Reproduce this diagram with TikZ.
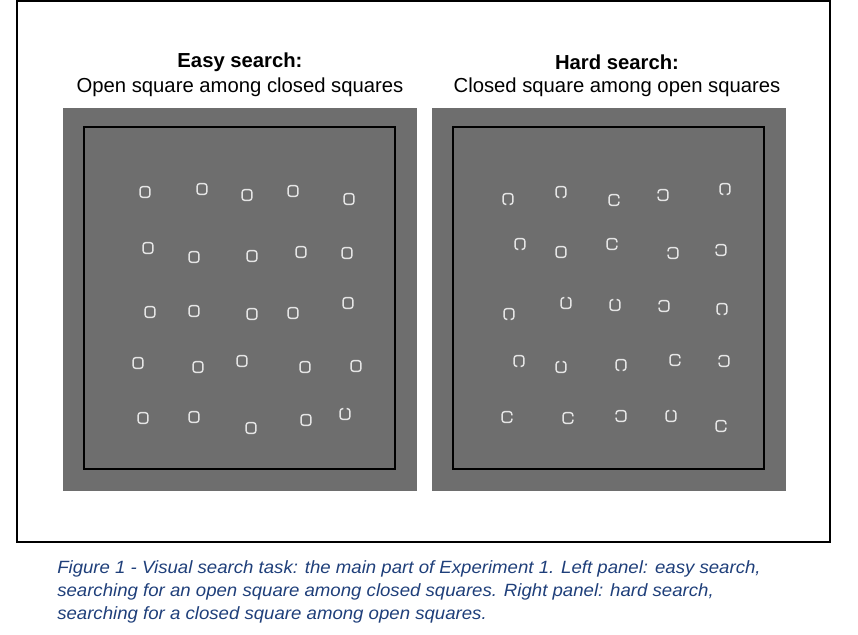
\documentclass[tikz,border=0pt]{standalone}
\usepackage{fontspec}
\setmainfont{Liberation Sans}
\newfontfamily\capfont[FakeStretch=1.05]{Liberation Sans}
\definecolor{panelgray}{HTML}{6E6E6E}
\definecolor{itemwhite}{HTML}{E4E4E4}
\definecolor{capblue}{HTML}{1F3F7A}
\tikzset{
  item/.style={draw=itemwhite, line width=1.1pt, rounded corners=1.8},
  panel/.style={fill=panelgray},
  frame/.style={draw=black, line width=0.9pt},
  pics/closedsq/.style={code={\draw[item] (-4.8,-5.3) rectangle (4.8,5.3);}},
  pics/opensq/.style={code={
    \ifcase#1
      % gap at the top
      \draw[item] (1.6,-5.3) -- (4.8,-5.3) -- (4.8,5.3) -- (-4.8,5.3) -- (-4.8,-5.3) -- (-1.6,-5.3);
    \or
      % gap on the right
      \draw[item] (4.8,-1.6) -- (4.8,-5.3) -- (-4.8,-5.3) -- (-4.8,5.3) -- (4.8,5.3) -- (4.8,1.6);
    \or
      % gap at the bottom
      \draw[item] (-1.6,5.3) -- (-4.8,5.3) -- (-4.8,-5.3) -- (4.8,-5.3) -- (4.8,5.3) -- (1.6,5.3);
    \or
      % gap on the left
      \draw[item] (-4.8,1.6) -- (-4.8,5.3) -- (4.8,5.3) -- (4.8,-5.3) -- (-4.8,-5.3) -- (-4.8,-1.6);
    \fi}}
}
\begin{document}
\begin{tikzpicture}[x=0.75pt, y=-0.75pt]
    \useasboundingbox (0,0) rectangle (858,635);
    % Outer frame
    \draw[line width=0.8pt] (17,1) rectangle (830,542);

    % Titles
    \node[inner sep=0, font=\fontsize{15.2}{18}\selectfont\bfseries] (easytitle) at (240,62) {Easy search:};
    \node[inner sep=0, font=\fontsize{15.2}{18}\selectfont] (easysub) at (240,87) {Open square among closed squares};
    \node[inner sep=0, font=\fontsize{15.2}{18}\selectfont\bfseries] (hardtitle) at (617,62) {Hard search:};
    \node[inner sep=0, font=\fontsize{15.2}{18}\selectfont] (hardsub) at (617,87) {Closed square among open squares};

    % Panels
    \fill[panel] (63,108) rectangle (417,491);
    \fill[panel] (432,108) rectangle (786,491);
    \draw[frame] (84,127) rectangle (395,469);
    \draw[frame] (453,127) rectangle (764,469);

    % Easy search: closed squares and one open target
    \foreach \x/\y in {145/192, 202/189, 247/195, 293/191, 349/199,
                       148/248, 194/257, 252/256, 301/252, 347/253,
                       150/312, 194/311, 252/314, 293/313, 348/303,
                       138/363, 198/367, 242/361, 305/367, 356/366,
                       143/418, 194/417, 251/428, 306/420}
        \pic at (\x,\y) {closedsq};
    \pic at (345,414) {opensq=0};

    % Hard search: open squares and one closed target
    \foreach \x/\y/\s in {508/199/2, 561/192/2, 614/200/1, 663/195/3, 725/189/2,
                          520/244/2, 612/244/1, 673/253/3, 721/250/3,
                          509/314/2, 566/303/0, 615/305/0, 664/306/3, 722/309/2,
                          519/361/2, 561/367/0, 621/365/2, 675/360/1, 724/361/3,
                          507/417/1, 568/418/1, 621/416/3, 671/416/0, 721/426/1}
        \pic at (\x,\y) {opensq=\s};
    \pic at (561,252) {closedsq};

    % Caption
    \node[anchor=north west, inner sep=0, align=left, text=capblue,
          font=\capfont\itshape\fontsize{13.3}{17.25}\selectfont] (caption) at (57,560)
        {Figure 1 - Visual search task: the main part of Experiment 1. Left panel: easy search,\\
         searching for an open square among closed squares. Right panel: hard search,\\
         searching for a closed square among open squares.};
\end{tikzpicture}
\end{document}
